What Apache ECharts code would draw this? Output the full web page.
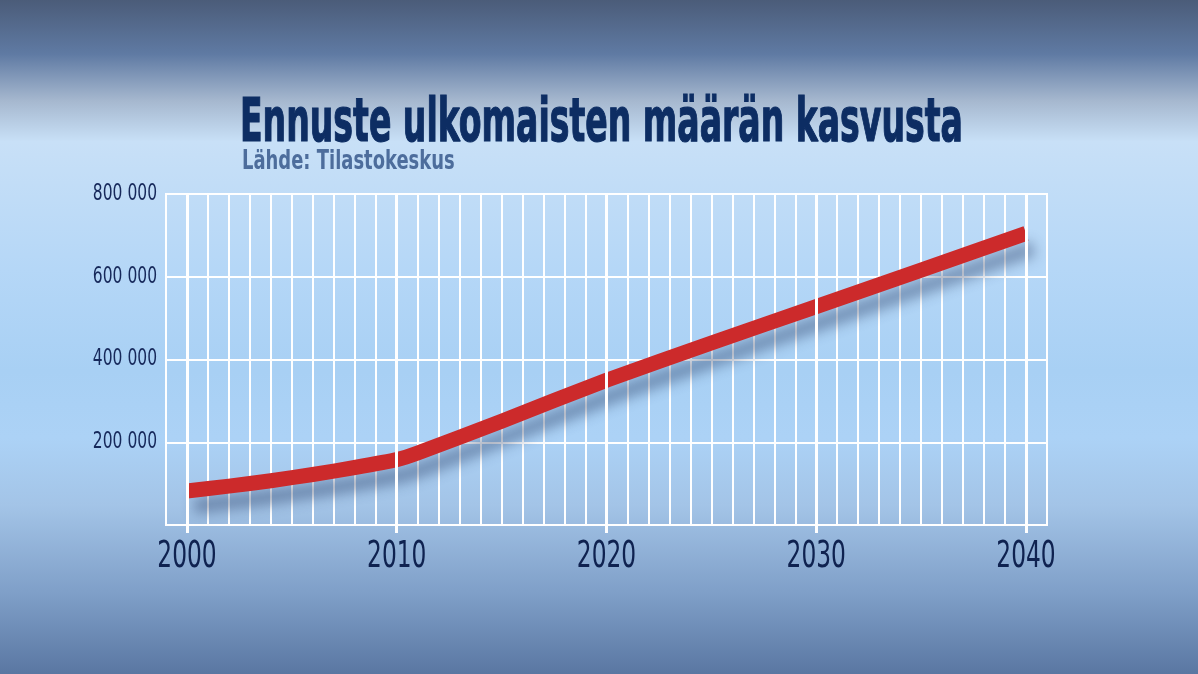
<!DOCTYPE html>
<html>
<head>
    <meta charset="utf-8">
    <title>Ennuste ulkomaisten määrän kasvusta</title>
    <script src="https://cdn.jsdelivr.net/npm/echarts@6/dist/echarts.min.js"></script>
    <style>
        html, body { margin: 0; padding: 0; }
        body {
            width: 1198px; height: 674px; overflow: hidden;
            background: linear-gradient(to bottom,
                #4b5c79 0%, #5f7aa3 8%, #a6b8cf 15%, #c8e0f7 21%,
                #b5d7f7 40%, #a8d0f4 55%, #acd2f6 65%, #a3c4e7 75%,
                #7f9fc8 88%, #5a77a2 100%);
        }
    </style>
</head>
<body>
    <div id="main" style="width: 1198px;height:674px;"></div>
    <script type="text/javascript">
    // luvut luettu kuvasta
    var years = [2000, 2002, 2004, 2006, 2008, 2010, 2011, 2015, 2020, 2025, 2030, 2035, 2040];
    var values = [82000, 94000, 107000, 122000, 139000, 158000, 174000, 251000, 350000, 440000, 528000, 616000, 705000];
    var decades = [2000, 2010, 2020, 2030, 2040];
    var yTicks = [200000, 400000, 600000, 800000];

    var titleText = 'Ennuste ulkomaisten määrän kasvusta';
    var sourceText = 'Lähde: Tilastokeskus';

    var narrow = '"DejaVu Sans Condensed", "DejaVu Sans", sans-serif';

    function fmt(v) {
        return String(v).replace(/\B(?=(\d{3})+(?!\d))/g, ' ');
    }

    var lineData = [];
    for (var i = 0; i < years.length; i++) {
        lineData.push([years[i], values[i]]);
    }
    var decadeLines = [];
    for (var j = 0; j < decades.length; j++) {
        decadeLines.push({ xAxis: decades[j] });
    }

    var headGraphics = [
        {
            type: 'text', x: 240, y: 95, scaleX: 0.92, scaleY: 1.5,
            style: {
                text: titleText, fill: '#0d2d63', stroke: '#0d2d63', lineWidth: 0.8,
                font: 'bold 40px ' + narrow
            }
        },
        {
            type: 'text', x: 242, y: 149, scaleX: 1.05, scaleY: 1.4,
            style: {
                text: sourceText, fill: '#4d6d9c',
                font: 'bold 19px ' + narrow
            }
        }
    ];

    var myChart = echarts.init(document.getElementById('main'));
    var option = {
        backgroundColor: 'transparent',
        animation: false,
        graphic: headGraphics,
        grid: {
            left: 166, right: 151, top: 194, bottom: 149,
            show: true, borderColor: '#ffffff', borderWidth: 2,
            backgroundColor: 'transparent'
        },
        xAxis: [
            {
                type: 'value', min: 1999, max: 2041, interval: 1,
                axisLine: { show: false },
                axisTick: { show: false },
                axisLabel: { show: false },
                splitLine: { show: true, lineStyle: { color: '#ffffff', width: 2 } }
            },
            {
                type: 'value', min: 1999, max: 2041, position: 'bottom',
                axisLine: { show: true, lineStyle: { color: '#ffffff', width: 2 } },
                axisTick: {
                    show: true, customValues: decades, length: 8,
                    lineStyle: { color: '#ffffff', width: 3 }
                },
                axisLabel: { show: false },
                splitLine: { show: false }
            }
        ],
        yAxis: {
            type: 'value', min: 0, max: 800000, interval: 200000,
            axisLine: { show: false },
            axisTick: { show: false },
            axisLabel: { show: false },
            splitLine: { show: true, lineStyle: { color: '#ffffff', width: 2 } }
        },
        series: [
            {
                type: 'line', data: [], z: 1,
                markLine: {
                    silent: true, symbol: ['none', 'none'], label: { show: false },
                    lineStyle: { color: '#ffffff', width: 3, type: 'solid' },
                    data: decadeLines
                }
            },
            {
                type: 'line', data: lineData, z: 3,
                showSymbol: false, smooth: 0.15,
                lineStyle: {
                    color: '#cc2a2b', width: 15, cap: 'butt', join: 'round',
                    shadowColor: 'rgba(40,60,100,0.45)', shadowBlur: 13,
                    shadowOffsetX: 7, shadowOffsetY: 15
                }
            }
        ]
    };
    myChart.setOption(option);

    // akselien tekstit kapeina, paikat akselien asteikoilta
    var labels = headGraphics.slice();
    var y0 = myChart.convertToPixel({ yAxisIndex: 0 }, 0);
    var xLeft = myChart.convertToPixel({ xAxisIndex: 0 }, 1999);
    for (var a = 0; a < decades.length; a++) {
        labels.push({
            type: 'text', x: myChart.convertToPixel({ xAxisIndex: 0 }, decades[a]), y: y0 + 32,
            scaleX: 0.72, scaleY: 1.05,
            style: {
                text: String(decades[a]), fill: '#0f2250',
                font: '36px ' + narrow, align: 'center', verticalAlign: 'middle'
            }
        });
    }
    for (var b = 0; b < yTicks.length; b++) {
        labels.push({
            type: 'text', x: xLeft - 9, y: myChart.convertToPixel({ yAxisIndex: 0 }, yTicks[b]),
            scaleX: 0.75, scaleY: 1.0,
            style: {
                text: fmt(yTicks[b]), fill: '#16285a',
                font: '23px ' + narrow, align: 'right', verticalAlign: 'middle'
            }
        });
    }
    myChart.setOption({ graphic: labels });
    </script>
</body>
</html>
